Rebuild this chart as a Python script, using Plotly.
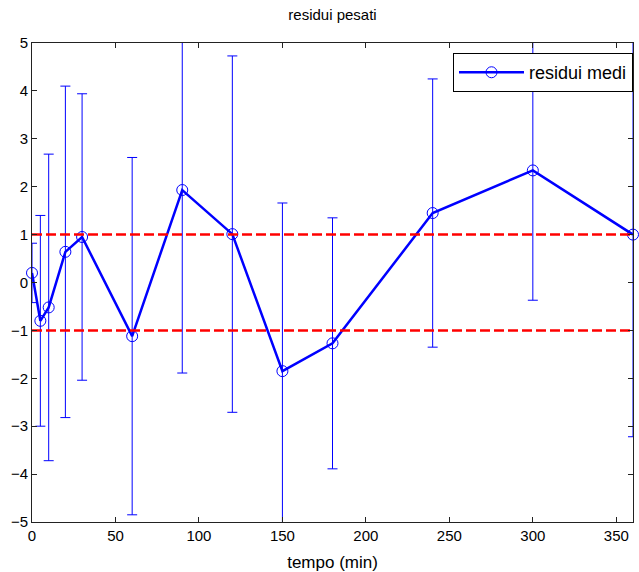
import numpy as np
import plotly.graph_objects as go

tempo = [0, 5, 10, 20, 30, 60, 90, 120, 150, 180, 240, 300, 360]
residui = [0.2, -0.8, -0.52, 0.64, 0.95, -1.12, 1.93, 1.01, -1.85, -1.27, 1.45, 2.34, 1.0]
errore = [0.62, 2.2, 3.2, 3.46, 2.99, 3.73, 3.82, 3.72, 3.51, 2.62, 2.8, 2.71, 4.22]
soglie = [1, -1]
x_ticks = [0, 50, 100, 150, 200, 250, 300, 350]
y_ticks = [-5, -4, -3, -2, -1, 0, 1, 2, 3, 4, 5]

FONT = "Liberation Sans"
BLUE = "#0000ff"

fig = go.Figure()

# error bars (clipped to axes)
fig.add_trace(go.Scatter(
    x=tempo, y=residui, mode="markers",
    marker=dict(size=1, color="rgba(0,0,0,0)"),
    error_y=dict(type="data", array=errore, symmetric=True,
                 color=BLUE, thickness=1, width=5),
    showlegend=False, hoverinfo="skip", cliponaxis=True))

# main line
fig.add_trace(go.Scatter(
    x=tempo, y=residui, mode="lines+markers", name="residui medi",
    line=dict(color=BLUE, width=2.5),
    marker=dict(symbol="circle-open", size=11, color=BLUE,
                line=dict(width=1, color=BLUE)),
    cliponaxis=False))

# threshold lines
for s in soglie:
    fig.add_trace(go.Scatter(
        x=[0, 360], y=[s, s], mode="lines",
        line=dict(color="#ff0000", width=2.5, dash="10px,4px"),
        showlegend=False, hoverinfo="skip"))

axis_common = dict(showline=True, linecolor="#222222", linewidth=1, mirror="ticks",
                   ticks="inside", ticklen=5, tickcolor="#222222",
                   showgrid=False, zeroline=False, automargin=False,
                   tickfont=dict(family=FONT, size=15, color="#000000"))

fig.update_layout(
    width=639, height=572,
    margin=dict(l=32, r=6, t=43, b=50, autoexpand=False),
    paper_bgcolor="white", plot_bgcolor="white",
    title=dict(text="residui pesati", x=0.5, xref="paper", xanchor="center",
               y=1 - 15 / 572, yanchor="middle", yref="container",
               font=dict(family=FONT, size=15, color="#000000")),
    xaxis=dict(range=[0, 360], tickvals=x_ticks, **axis_common,
               title=dict(text="tempo (min)", standoff=14,
                          font=dict(family=FONT, size=17, color="#000000"))),
    yaxis=dict(range=[-5, 5], tickvals=y_ticks, **axis_common),
    legend=dict(x=1.0, xanchor="right", y=0.979, yanchor="top",
                bordercolor="#000000", borderwidth=1, bgcolor="white",
                itemwidth=65,
                font=dict(family=FONT, size=18, color="#000000")),
    showlegend=True,
)

fig.write_html("out.html", config={"displayModeBar": False},
               post_script="document.body.style.margin='0px';document.body.style.padding='0px';")
